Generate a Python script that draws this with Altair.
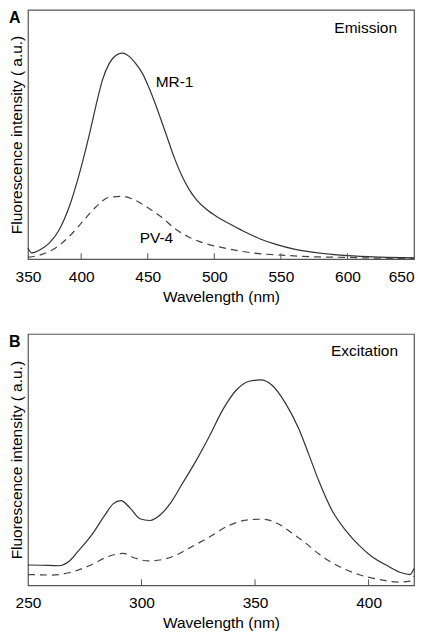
import altair as alt
import pandas as pd

# ---------------- Panel A: emission ----------------
A_WL_MR1 = [360, 363, 368.5, 376, 383.5, 391, 398.5, 406, 411, 416, 421, 426, 431, 436,
            441, 446, 451, 456, 461, 465, 470, 475, 481, 487, 494, 502, 510, 522, 535, 547,
            560, 575, 600, 625, 650]
A_MR1 = [4.4, 2.5, 3.6, 6.4, 11.8, 21.0, 34.0, 49.7, 61.4, 71.9, 78.4, 81.7, 82.6, 81.3,
         78.4, 74.5, 68.6, 61.8, 54.3, 48.2, 40.6, 34.1, 28.0, 23.6, 20.0, 17.0, 14.6, 11.2,
         8.0, 5.8, 4.0, 2.7, 1.4, 0.8, 0.5]
A_WL_PV4 = [360, 371, 381, 391, 401, 411, 421, 431, 441, 451, 460, 470, 480, 492, 510,
            530, 550, 572, 600, 625, 650]
A_PV4 = [0.7, 2.0, 4.6, 9.1, 15.0, 20.9, 24.8, 25.2, 23.5, 20.3, 17.0, 12.4, 9.1, 6.5, 4.2,
         2.4, 1.6, 1.0, 0.7, 0.4, 0.3]
A_DOMAIN = [360, 650]
A_TICKS = [400, 450, 500, 550, 600]
A_LABEL_VALUES = [360, 400, 450, 500, 550, 600, 650]
A_LABEL_TEXT = ["350", "400", "450", "500", "550", "600", "650"]

# ---------------- Panel B: excitation ----------------
B_WL_MR1 = [250, 256, 263.5, 268, 272, 278, 284, 287.5, 291, 295, 299.3, 303.6, 308.8, 313,
            318, 324, 330, 335.7, 341.6, 347.4, 352.5, 357.6, 363.5, 369.3, 373.7, 378.1,
            383.9, 389.8, 395.6, 401.4, 408.7, 414.5, 418.2, 420]
B_MR1 = [8.1, 8.0, 7.8, 9.5, 13.5, 20.0, 28.1, 32.4, 33.7, 30.7, 26.5, 25.8, 28.5, 33.0,
         40.5, 49.5, 59.5, 69.7, 77.5, 81.2, 81.7, 79.5, 72.3, 62.2, 52.0, 41.5,
         29.8, 22.0, 16.1, 11.5, 7.6, 5.0, 4.3, 6.7]
B_WL_PV4 = [250, 255, 260.6, 268, 278, 285.4, 292, 297, 303, 308.8, 313, 321, 330, 338.7,
            347.4, 353.2, 359.1, 366.4, 372, 378.1, 386.8, 395.6, 404.3, 413, 418.2, 420]
B_PV4 = [4.3, 4.2, 4.1, 5.0, 8.2, 11.5, 12.7, 10.9, 9.7, 10.2, 11.2, 14.8, 19.3, 23.9,
         26.1, 26.3, 25.0, 20.7, 17.0, 12.5, 7.6, 4.3, 2.4, 1.3, 1.7, 3.6]
B_DOMAIN = [250, 420]
B_TICKS = [300, 350, 400]
B_LABEL_VALUES = [250, 300, 350, 400]
B_LABEL_TEXT = ["250", "300", "350", "400"]

FONT = "Liberation Sans"
FS = 15.5
W = 387
HA = 250
HB = 252
LINE = "#333333"
FRAME = "#555555"


def label_expr(values, texts):
    expr = "datum.label"
    for v, t in zip(values, texts):
        expr = f"datum.value == {v} ? '{t}' : ({expr})"
    return expr


def text_layer(txt, x, y, align, size=FS, weight="normal", baseline="alphabetic"):
    return alt.Chart(pd.DataFrame({"t": [txt]})).mark_text(
        align=align, baseline=baseline, fontSize=size, fontWeight=weight,
        font=FONT, color="#000000"
    ).encode(x=alt.value(x), y=alt.value(y), text="t:N")


def panel(wl_s, s, wl_d, d, domain, ticks, lv, lt, h, tag, name, name_xy,
          mr_xy=None, pv_xy=None):
    xs = alt.Scale(domain=domain, nice=False, zero=False)
    ys = alt.Scale(domain=[0, 100], nice=False, zero=False)
    right_end = domain[1]
    xaxis = alt.Axis(values=lv, labelExpr=label_expr(lv, lt), title="Wavelength (nm)",
                     ticks=False, tickSize=0, domain=False, grid=False,
                     labelPadding=10, labelFlush=False, titlePadding=5,
                     labelAlign={"condition": {"test": f"datum.value >= {right_end}",
                                               "value": "right"},
                                 "value": "center"})
    yaxis = alt.Axis(title="Fluorescence intensity ( a.u.)", labels=False, ticks=False,
                     domain=False, grid=False, titlePadding=3)
    solid = alt.Chart(pd.DataFrame({"wl": wl_s, "v": s})).mark_line(
        color=LINE, strokeWidth=1.2, interpolate="monotone"
    ).encode(x=alt.X("wl:Q", scale=xs, axis=xaxis), y=alt.Y("v:Q", scale=ys, axis=yaxis))
    dashed = alt.Chart(pd.DataFrame({"wl": wl_d, "v": d})).mark_line(
        color="#444444", strokeWidth=1.2, strokeDash=[7, 5], interpolate="monotone"
    ).encode(x="wl:Q", y="v:Q")
    tk = alt.Chart(pd.DataFrame({"wl": ticks})).mark_rule(color=FRAME, strokeWidth=1).encode(
        x="wl:Q", y=alt.value(h), y2=alt.value(h - 6))
    layers = [solid, dashed, tk,
              text_layer(tag, -19, 0, "left", size=16, weight="bold", baseline="top"),
              text_layer(name, name_xy[0], name_xy[1], "right")]
    if mr_xy:
        layers.append(text_layer("MR-1", mr_xy[0], mr_xy[1], "left"))
    if pv_xy:
        layers.append(text_layer("PV-4", pv_xy[0], pv_xy[1], "left"))
    return alt.layer(*layers).properties(width=W, height=h)


pa = panel(A_WL_MR1, A_MR1, A_WL_PV4, A_PV4, A_DOMAIN, A_TICKS, A_LABEL_VALUES, A_LABEL_TEXT,
           HA, "A", "Emission", (370, 23), mr_xy=(128, 77), pv_xy=(112, 234))
pb = panel(B_WL_MR1, B_MR1, B_WL_PV4, B_PV4, B_DOMAIN, B_TICKS, B_LABEL_VALUES, B_LABEL_TEXT,
           HB, "B", "Excitation", (371, 22))

chart = alt.vconcat(pa, pb, spacing=27).properties(padding=0).configure(
    font=FONT
).configure_view(stroke=FRAME, strokeWidth=1.2).configure_axis(
    labelFont=FONT, titleFont=FONT, labelFontSize=FS, titleFontSize=FS,
    labelColor="#000000", titleColor="#000000", titleFontWeight="normal"
)

chart.save("out.html", embed_options={"renderer": "svg", "actions": False})
